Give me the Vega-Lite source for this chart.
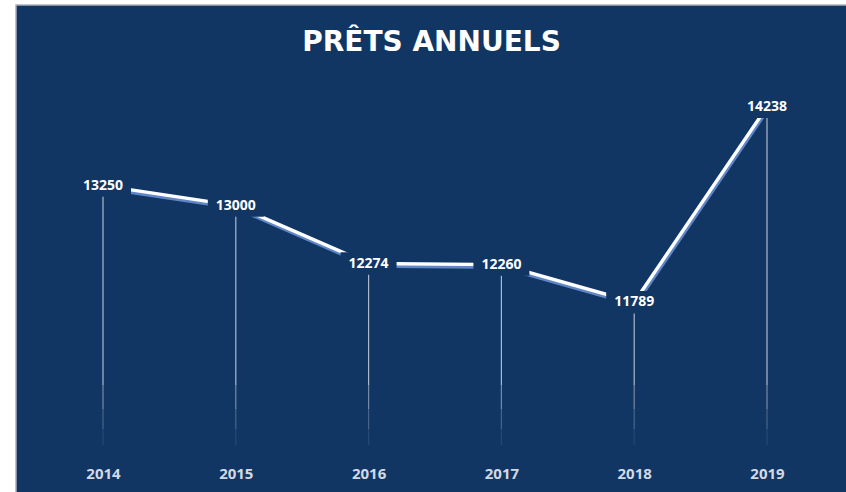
{
  "$schema": "https://vega.github.io/schema/vega-lite/v6.json",
  "width": 831,
  "height": 488,
  "autosize": {"type": "none"},
  "padding": {"left": 16, "top": 5, "right": 0, "bottom": 0},
  "background": "#ffffff",
  "view": {"fill": "#113663", "stroke": "#a9b0bc", "strokeWidth": 1.5},
  "title": {
    "text": "PRÊTS ANNUELS",
    "orient": "top",
    "anchor": "middle",
    "frame": "group",
    "offset": -33,
    "dy": 33,
    "baseline": "middle",
    "font": "DejaVu Sans",
    "fontSize": 28,
    "fontWeight": "bold",
    "color": "#ffffff",
    "limit": 0
  },
  "data": {
    "values": [
      {"annee": "2014", "prets": 13250},
      {"annee": "2015", "prets": 13000},
      {"annee": "2016", "prets": 12274},
      {"annee": "2017", "prets": 12260},
      {"annee": "2018", "prets": 11789},
      {"annee": "2019", "prets": 14238}
    ]
  },
  "encoding": {
    "x": {
      "field": "annee",
      "type": "ordinal",
      "scale": {"type": "point", "range": [87, 751], "padding": 0},
      "axis": {
        "title": null,
        "domain": false,
        "ticks": false,
        "grid": false,
        "labelAngle": 0,
        "offset": -27,
        "labelPadding": 0,
        "labelFont": "Open Sans",
        "labelFontSize": 15,
        "labelFontWeight": "bold",
        "labelColor": "#d3d9e4"
      }
    }
  },
  "layer": [
    {
      "mark": {"type": "rule", "color": "#c8d0dd", "strokeWidth": 1.2, "opacity": 0.85},
      "encoding": {
        "y": {"field": "prets", "type": "quantitative", "scale": {"domain": [10000, 15000], "range": [440, 41], "zero": false, "nice": false}, "axis": null},
        "y2": {"datum": 10750}
      }
    },
    {
      "mark": {"type": "rule", "color": "#c8d0dd", "strokeWidth": 1.2, "opacity": 0.55},
      "encoding": {"y": {"datum": 10750}, "y2": {"datum": 10450}}
    },
    {
      "mark": {"type": "rule", "color": "#c8d0dd", "strokeWidth": 1.2, "opacity": 0.3},
      "encoding": {"y": {"datum": 10450}, "y2": {"datum": 10200}}
    },
    {
      "mark": {"type": "rule", "color": "#c8d0dd", "strokeWidth": 1.2, "opacity": 0.12},
      "encoding": {"y": {"datum": 10200}, "y2": {"datum": 10000}}
    },
    {
      "mark": {"type": "line", "color": "#5e86c8", "strokeWidth": 5, "yOffset": 1.8, "xOffset": 0.6},
      "encoding": {"y": {"field": "prets", "type": "quantitative"}}
    },
    {
      "mark": {"type": "line", "color": "#ffffff", "strokeWidth": 3.4},
      "encoding": {"y": {"field": "prets", "type": "quantitative"}}
    },
    {
      "mark": {"type": "point", "shape": "M-1,-0.4H1V0.4H-1Z", "size": 3136, "filled": true, "color": "#113663", "opacity": 1},
      "encoding": {"y": {"field": "prets", "type": "quantitative"}}
    },
    {
      "mark": {"type": "text", "font": "Open Sans", "fontSize": 14, "fontWeight": "bold", "color": "#ffffff", "baseline": "middle", "align": "center", "letterSpacing": -0.4},
      "encoding": {
        "y": {"field": "prets", "type": "quantitative"},
        "text": {"field": "prets", "type": "quantitative", "format": "d"}
      }
    }
  ]
}
